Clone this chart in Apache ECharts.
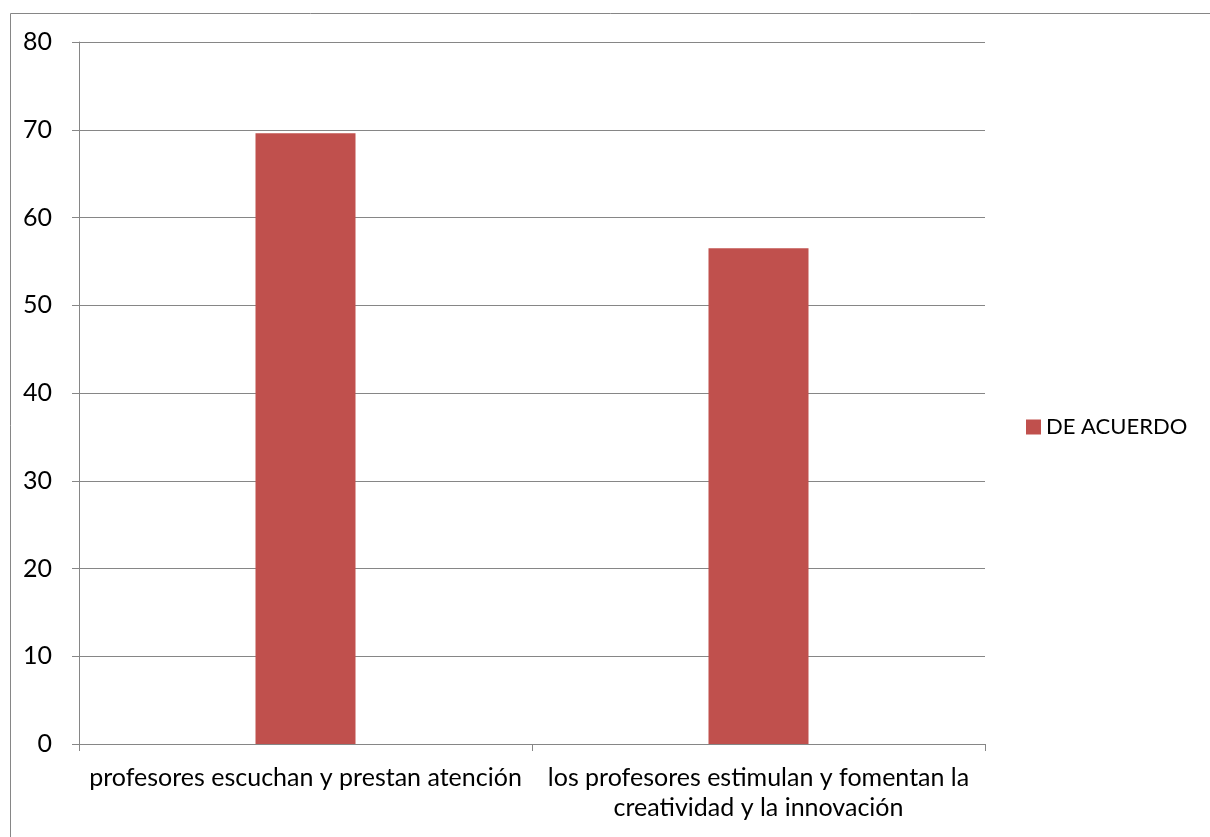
<!DOCTYPE html>
<html><head><meta charset="utf-8">
<script src="https://cdn.jsdelivr.net/npm/echarts@6/dist/echarts.min.js"></script>
<style>html,body{margin:0;padding:0;background:#fff}#c{width:1210px;height:837px}</style>
</head><body><div id="c"></div>
<script>
const categories = ["profesores escuchan y prestan atención", "los profesores estimulan y fomentan la\ncreatividad y la innovación"];
const seriesName = "DE ACUERDO";
const values = [69.6, 56.5];
const yTicks = [0, 10, 20, 30, 40, 50, 60, 70, 80];

const chart = echarts.init(document.getElementById('c'), null, {renderer: 'canvas'});
const font = 'Lato, "Open Sans", sans-serif';
chart.setOption({
  animation: false,
  backgroundColor: '#fff',
  textStyle: {fontFamily: font},
  graphic: [{
    type: 'rect', shape: {x: 10.5, y: 13.5, width: 1260, height: 900},
    style: {fill: 'none', stroke: '#868686', lineWidth: 1}, silent: true
  }],
  grid: {left: 79, right: 225, top: 42, bottom: 93},
  legend: {
    data: [seriesName], left: 1021, top: 411, orient: 'vertical',
    icon: 'rect', itemWidth: 15, itemHeight: 15, itemGap: 7,
    textStyle: {fontSize: 22, color: '#000', fontFamily: font}
  },
  xAxis: {
    type: 'category', data: categories,
    axisLine: {lineStyle: {color: '#868686', width: 1}},
    axisTick: {show: true, length: 7, alignWithLabel: false, lineStyle: {color: '#868686'}},
    axisLabel: {color: '#000', fontSize: 25, margin: 19, lineHeight: 30, interval: 0, fontFamily: font}
  },
  yAxis: {
    type: 'value', min: yTicks[0], max: yTicks[yTicks.length - 1], interval: 10,
    axisLine: {show: true, lineStyle: {color: '#868686', width: 1}},
    axisTick: {show: true, length: 7, lineStyle: {color: '#868686'}},
    axisLabel: {color: '#000', fontSize: 25, margin: 27, fontFamily: font},
    splitLine: {show: true, lineStyle: {color: '#868686', width: 1}}
  },
  series: [{
    name: seriesName, type: 'bar', data: values,
    barWidth: 100,
    itemStyle: {color: '#C0504D'}
  }]
});
</script></body></html>
